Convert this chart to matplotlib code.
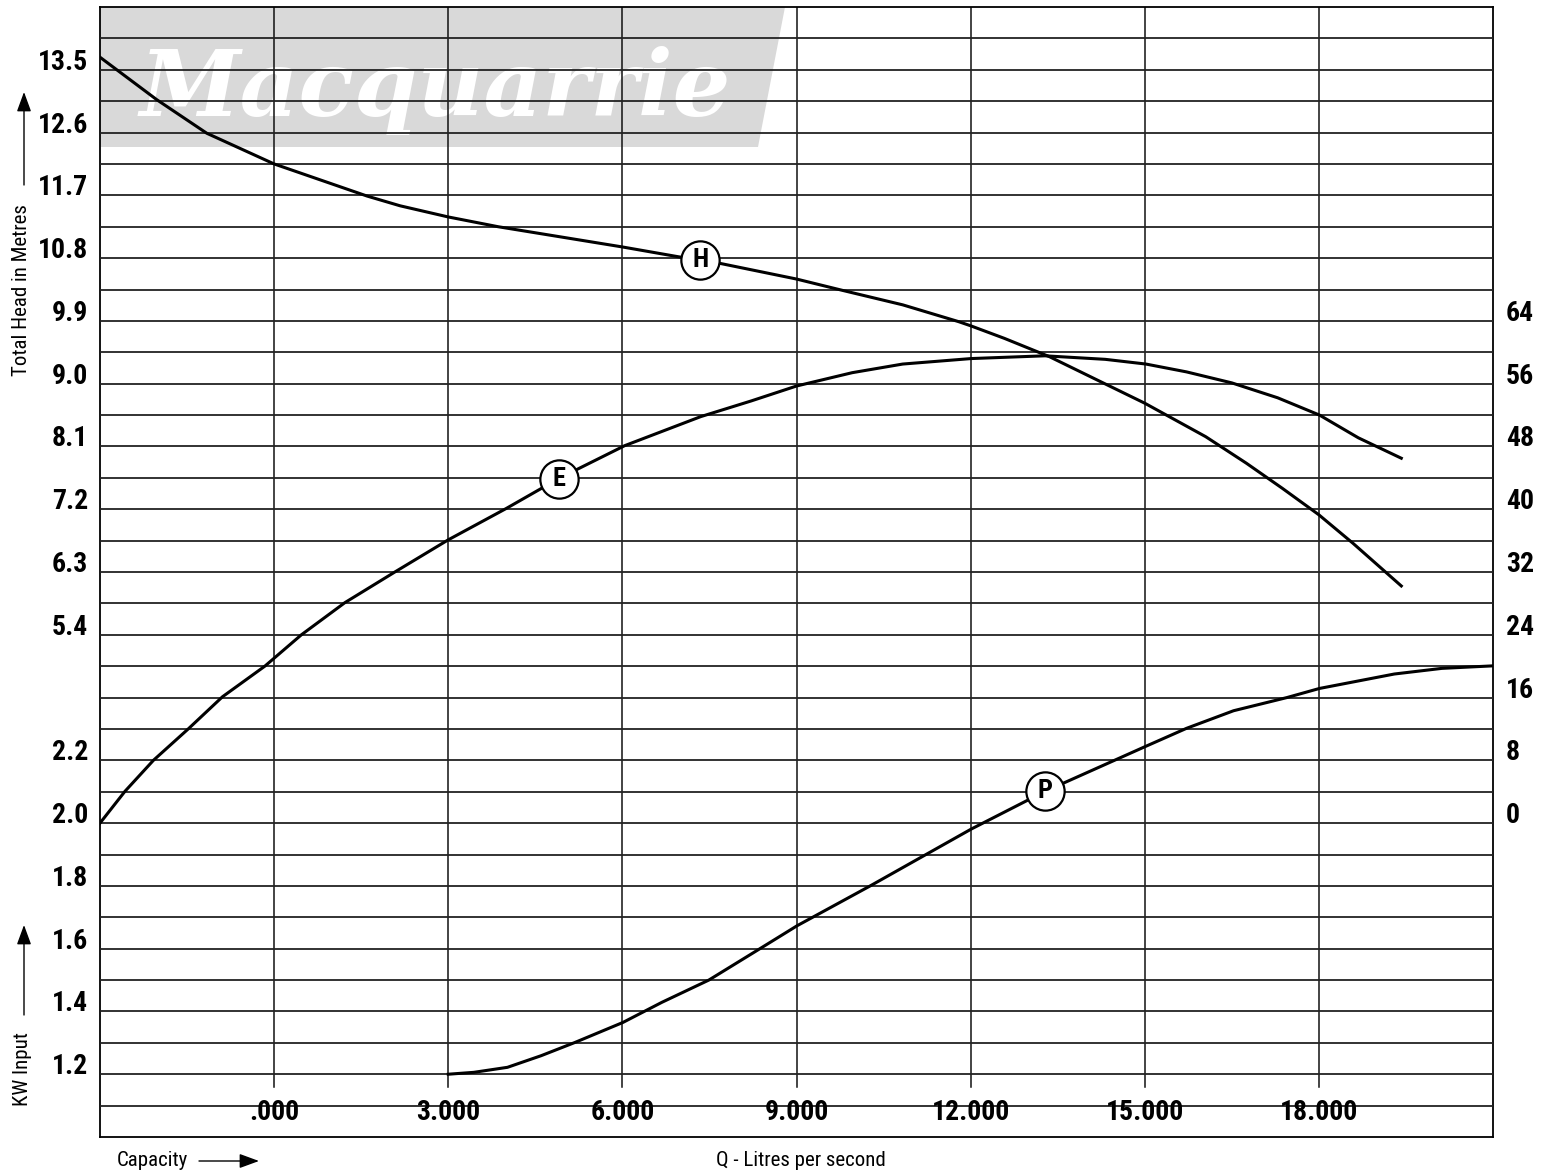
import os
import numpy as np
import matplotlib
matplotlib.use('Agg')
import matplotlib.pyplot as plt
from matplotlib.textpath import TextPath
from matplotlib.patches import Polygon
from matplotlib.font_manager import FontProperties, fontManager
from matplotlib.transforms import blended_transform_factory

# capacity (thousands, as labelled) / head in metres
q_head = [-3.0, -2.02, -1.16, 0.0, 1.6, 2.17, 3.0, 3.86, 6.0, 6.96, 7.65, 9.0, 9.78, 10.83,
          11.79, 12.0, 12.58, 13.35, 14.31, 15.0, 16.05, 16.75, 17.37, 18.0, 18.59, 19.42]
head = [13.68, 13.07, 12.59, 12.15, 11.69, 11.55, 11.39, 11.25, 10.96, 10.82, 10.73, 10.50, 10.34, 10.13,
        9.89, 9.83, 9.65, 9.39, 9.00, 8.72, 8.24, 7.86, 7.50, 7.12, 6.71, 6.10]

# efficiency %
q_eff = [-3.0, -2.57, -2.08, -1.48, -0.89, -0.16, 0.47, 1.22, 2.08, 3.0, 4.0, 4.9, 6.04, 7.35,
         8.22, 9.0, 9.96, 10.83, 12.01, 13.28, 14.32, 15.02, 15.72, 16.5, 17.29, 18.01, 18.68, 19.42]
eff = [0.0, 4.05, 8.0, 12.0, 16.1, 20.0, 24.0, 28.1, 32.0, 36.1, 40.1, 43.9, 48.1, 51.8,
       53.8, 55.7, 57.4, 58.5, 59.2, 59.55, 59.1, 58.5, 57.5, 56.1, 54.2, 52.0, 49.1, 46.5]

# kW input
q_pow = [3.0, 3.44, 4.02, 4.60, 5.18, 6.01, 6.68, 7.49, 8.30, 9.01, 10.27, 12.01, 13.28, 15.01,
         15.72, 16.53, 17.45, 18.01, 19.30, 20.12, 21.0]
power = [1.2, 1.206, 1.222, 1.259, 1.301, 1.365, 1.429, 1.50, 1.592, 1.673, 1.80, 1.981, 2.101, 2.244,
         2.302, 2.358, 2.40, 2.429, 2.475, 2.493, 2.501]

head_ticks = [13.5, 12.6, 11.7, 10.8, 9.9, 9.0, 8.1, 7.2, 6.3, 5.4]
power_ticks = [2.2, 2.0, 1.8, 1.6, 1.4, 1.2]
eff_ticks = [64, 56, 48, 40, 32, 24, 16, 8, 0]
x_ticks = [0, 3, 6, 9, 12, 15, 18]
x_labels = ['.000', '3.000', '6.000', '9.000', '12.000', '15.000', '18.000']

# curve labels: (x, y) on each curve
h_mark = (7.345, 10.77)
e_mark = (4.9, 43.9)
p_mark = (13.28, 2.101)


def find_font(names):
    files = {os.path.basename(f.fname).lower(): f.fname for f in fontManager.ttflist}
    for n in names:
        if n.lower() in files:
            return files[n.lower()], n
    return None, None


bold_file, bold_name = find_font(['LiberationSansNarrow-Bold.ttf', 'RobotoCondensed-Bold.ttf',
                                  'DejaVuSansCondensed-Bold.ttf'])
reg_file, reg_name = find_font(['LiberationSansNarrow-Regular.ttf', 'RobotoCondensed-Regular.ttf',
                                'DejaVuSansCondensed.ttf'])


def fp_bold(size):
    if bold_file:
        if 'DejaVu' in bold_name:
            size *= 0.8
        return FontProperties(fname=bold_file, size=size)
    return FontProperties(family='DejaVu Sans', weight='bold', stretch='condensed', size=size * 0.75)


def fp_reg(size):
    if reg_file:
        if 'DejaVu' in reg_name:
            size *= 0.85
        return FontProperties(fname=reg_file, size=size)
    return FontProperties(family='DejaVu Sans', stretch='condensed', size=size * 0.78)


W, H = 1543, 1173
fig = plt.figure(figsize=(W / 100, H / 100), dpi=100)
ax = fig.add_axes([100 / W, 1 - 1137 / H, 1393 / W, 1130 / H])
ax.set_xlim(-3, 21)
ax.set_ylim(-1.8, 14.4)
ax_e = ax.twinx()
ax_e.set_ylim(-40, 104)
ax_p = ax.twinx()
ax_p.set_ylim(1.0, 4.6)
for a in (ax_e, ax_p):
    a.axis('off')

# grid
ax.set_xticks([])
ax.set_yticks([])
ax.set_yticks(-1.8 + 0.45 * np.arange(1, 36), minor=True)
ax.tick_params(which='both', length=0, labelleft=False, labelbottom=False)
ax.grid(axis='y', which='minor', color='#222222', lw=1.3, zorder=2)
for xv in x_ticks:
    ax.axvline(xv, ymin=0.044, ymax=1, color='#111111', lw=1.1, zorder=2)
for s in ax.spines.values():
    s.set_linewidth(1.3)
ax.set_axisbelow(False)

# watermark
ax.add_patch(Polygon([(100 / W, 1 - 7 / H), (785 / W, 1 - 7 / H), (758 / W, 1 - 147 / H), (100 / W, 1 - 147 / H)],
                     closed=True, transform=fig.transFigure, facecolor='#d9d9d9', edgecolor='none', zorder=0.5))
wm_prop = FontProperties(family='DejaVu Serif', weight='bold', style='italic')
wm_w = TextPath((0, 0), 'Macquarrie', size=1, prop=wm_prop).get_extents().width
wm_prop.set_size(590 / wm_w * 0.72)
ax.text(140 / W, 1 - 116 / H, 'Macquarrie', transform=fig.transFigure, fontproperties=wm_prop,
        color='white', ha='left', va='baseline', zorder=1)

# curves
ax.plot(q_head, head, color='black', lw=2.2, zorder=3)
ax_e.plot(q_eff, eff, color='black', lw=2.2, zorder=3)
ax_p.plot(q_pow, power, color='black', lw=2.2, zorder=3)

for a, (mx, my), letter in ((ax, h_mark, 'H'), (ax_e, e_mark, 'E'), (ax_p, p_mark, 'P')):
    a.scatter([mx], [my], s=760, facecolor='white', edgecolor='black', linewidth=1.6, zorder=4)
    a.text(mx, my, letter, ha='center', va='center', zorder=5, fontproperties=fp_bold(19))

# tick labels
lx = -12 / 1393
rx = 13 / 1393
for v in head_ticks:
    ax.text(lx, v, f'{v:.1f}', transform=blended_transform_factory(ax.transAxes, ax.transData),
            ha='right', va='baseline', fontproperties=fp_bold(20))
for v in power_ticks:
    ax_p.text(lx, v, f'{v:.1f}', transform=blended_transform_factory(ax_p.transAxes, ax_p.transData),
              ha='right', va='baseline', fontproperties=fp_bold(20))
for v in eff_ticks:
    ax_e.text(1 + rx, v, f'{v}', transform=blended_transform_factory(ax_e.transAxes, ax_e.transData),
              ha='left', va='baseline', fontproperties=fp_bold(20))
for v, s in zip(x_ticks, x_labels):
    ax.text(v, 24 / 1130, s, transform=blended_transform_factory(ax.transData, ax.transAxes),
            ha='center', va='center', fontproperties=fp_bold(20))

# axis titles with arrows
fig.text(22 / W, 1 - 290 / H, 'Total Head in Metres', rotation=90, ha='center', va='center',
         fontproperties=fp_reg(15))
fig.text(22 / W, 1 - 1069 / H, 'KW Input', rotation=90, ha='center', va='center', fontproperties=fp_reg(15))
fig.text(117 / W, 1 - 1161 / H, 'Capacity', ha='left', va='center', fontproperties=fp_reg(15))
fig.text(801 / W, 1 - 1161 / H, 'Q - Litres per second', ha='center', va='center', fontproperties=fp_reg(15))
arrow = dict(arrowstyle='-|>,head_length=0.6,head_width=0.22', color='black', lw=1, mutation_scale=20,
             shrinkA=0, shrinkB=0)
for start, end in (((24, 185), (24, 92)), ((24, 1015), (24, 925)), ((199, 1161), (259, 1161))):
    ax.annotate('', xy=(end[0], H - end[1]), xytext=(start[0], H - start[1]),
                xycoords='figure pixels', textcoords='figure pixels', arrowprops=arrow,
                annotation_clip=False)

fig.savefig('out.png', dpi=100, facecolor='white')
